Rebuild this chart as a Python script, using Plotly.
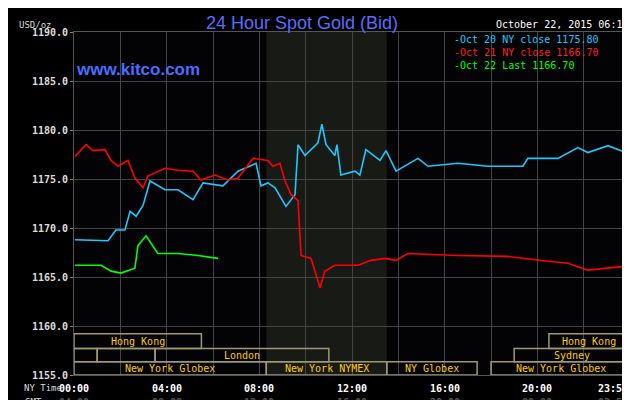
import plotly.graph_objects as go

blue_h = [0.04,1.47,1.81,2.2,2.42,2.68,2.98,3.28,3.93,4.49,5.14,5.57,6.43,7.08,7.86,8.07,8.37,8.68,9.15,9.54,9.67,9.97,10.53,10.70,10.88,11.26,11.35,11.52,12.13,12.34,12.6,13.21,13.47,13.9,14.85,15.28,16.57,17.87,19.38,19.59,20.89,21.75,22.18,23.05,23.82]
blue_v = [1168.8,1168.7,1169.8,1169.8,1171.7,1171.2,1172.3,1174.8,1173.9,1173.9,1172.9,1174.6,1174.3,1175.8,1176.6,1174.3,1174.6,1174.1,1172.2,1173.4,1178.5,1177.4,1178.7,1180.6,1178.5,1177.4,1178.5,1175.4,1175.8,1175.4,1178.0,1176.9,1177.9,1175.8,1177.1,1176.3,1176.6,1176.3,1176.3,1177.1,1177.1,1178.2,1177.7,1178.4,1177.7]
red_h = [0.04,0.52,0.82,1.34,1.6,1.9,2.33,2.63,2.98,3.19,3.93,4.49,5.14,5.48,6.09,6.65,7.08,7.73,8.37,8.59,8.89,9.11,9.37,9.67,9.8,10.23,10.62,10.83,11.26,11.83,12.26,12.82,13.42,13.9,14.41,16.57,18.73,20.46,21.32,22.18,23.05,23.82]
red_v = [1177.3,1178.5,1177.9,1178.0,1176.9,1176.3,1176.9,1175.1,1174.1,1175.3,1176.1,1175.9,1175.8,1174.9,1175.4,1174.9,1175.1,1177.1,1176.9,1176.3,1176.6,1174.8,1173.4,1172.8,1167.2,1166.9,1163.9,1165.6,1166.2,1166.2,1166.2,1166.7,1166.9,1166.7,1167.4,1167.2,1167.1,1166.6,1166.4,1165.7,1165.9,1166.1]
green_h = [0.04,1.17,1.6,2.03,2.63,2.76,3.11,3.62,4.49,5.35,6.22]
green_v = [1166.2,1166.2,1165.6,1165.4,1165.9,1168.2,1169.2,1167.4,1167.4,1167.2,1166.9]

ny_ticks = ["00:00","04:00","08:00","12:00","16:00","20:00","23:59"]
gmt_ticks = ["04:00","08:00","12:00","16:00","20:00","00:00","03:59"]
tick_pos = [0,4,8,12,16,20,23.98]
y_ticks = [1155,1160,1165,1170,1175,1180,1185,1190]

sessions = [(0,0,5.5,"Hong Kong"),(0,20.5,24,"Hong Kong"),
            (1,0,1,""),(1,1,3.5,""),(1,3.5,11,"London"),(1,19,24,"Sydney"),
            (2,0,8.3,"New York Globex"),(2,8.3,13.5,"New York NYMEX"),
            (2,13.5,17.4,"NY Globex"),(2,18,24,"New York Globex")]
row_y = [(1157.7,1159.2),(1156.35,1157.7),(1155.0,1156.35)]

MONO = "DejaVu Sans Mono"
fig = go.Figure()
for h, v, c in [(blue_h, blue_v, "#1ec8ff"), (red_h, red_v, "#ff0000"), (green_h, green_v, "#00ff00")]:
    fig.add_trace(go.Scatter(x=h, y=v, mode="lines", line=dict(color=c, width=1.6), showlegend=False))

shapes = [dict(type="rect", xref="x", yref="y", x0=8.3, x1=13.5, y0=1155, y1=1190,
               fillcolor="#181a16", line_width=0, layer="below")]
ann = []
for r, s, e, lab in sessions:
    y0, y1 = row_y[r]
    shapes.append(dict(type="rect", xref="x", yref="y", x0=s, x1=e, y0=y0, y1=y1,
                       line=dict(color="#a09870", width=1.5), fillcolor="rgba(0,0,0,0)"))
    if lab:
        ann.append(dict(x=(s+e)/2, y=(y0+y1)/2, xref="x", yref="y", text=lab, showarrow=False,
                        font=dict(family=MONO, size=10, color="#ffcc00")))
for p, a, b in zip(tick_pos, ny_ticks, gmt_ticks):
    xa = "right" if p > 23 else "center"
    ann.append(dict(x=p, y=-0.038, xref="x", yref="paper", xanchor=xa, yanchor="middle", text="<b>"+a+"</b>", showarrow=False,
                    font=dict(family=MONO, size=10, color="#ffffff")))
    ann.append(dict(x=p, y=-0.079, xref="x", yref="paper", xanchor=xa, yanchor="middle", text="<b>"+b+"</b>", showarrow=False,
                    font=dict(family=MONO, size=10, color="#555555")))
ann += [
    dict(x=0, y=-0.038, xref="paper", yref="paper", xanchor="right", xshift=-10, yanchor="middle", text="NY Time", showarrow=False,
         font=dict(family=MONO, size=9, color="#dddddd")),
    dict(x=0, y=-0.079, xref="paper", yref="paper", xanchor="right", xshift=-30, yanchor="middle", text="GMT", showarrow=False,
         font=dict(family=MONO, size=9, color="#dddddd")),
    dict(x=0, y=1.0, xref="paper", yref="paper", xanchor="right", xshift=-20, yanchor="bottom", text="USD/oz", showarrow=False,
         font=dict(family=MONO, size=9, color="#dddddd")),
    dict(x=0.41, y=1.0, xref="paper", yref="paper", yanchor="bottom", yshift=-3, text="24 Hour Spot Gold (Bid)", showarrow=False,
         font=dict(family="Liberation Sans", size=18, color="#5a6cff")),
    dict(x=0.0, y=0.925, xref="paper", yref="paper", xanchor="left", text="<b>www.kitco.com</b>", showarrow=False,
         font=dict(family="Liberation Sans", size=17, color="#4a6cff")),
    dict(x=1.0, y=1.0, xref="paper", yref="paper", xanchor="right", yanchor="bottom", text="October 22, 2015 06:12", showarrow=False,
         font=dict(family=MONO, size=10, color="#ffffff")),
    dict(x=0.68, y=1.0, xref="paper", yref="paper", xanchor="left", yanchor="top", align="left",
         text="<span style='color:#1ec8ff'>-Oct 20 NY close 1175.80</span><br>"
              "<span style='color:#ff2020'>-Oct 21 NY close 1166.70</span><br>"
              "<span style='color:#00ff00'>-Oct 22 Last 1166.70</span>", showarrow=False,
         font=dict(family=MONO, size=10)),
]

fig.update_layout(
    width=630, height=400, paper_bgcolor="#000000", plot_bgcolor="#030306",
    margin=dict(l=66, r=8, t=24, b=33, autoexpand=False), shapes=shapes, annotations=ann,
    xaxis=dict(range=[0,24], tickvals=list(range(0,25,2)), showticklabels=False, showgrid=True, automargin=False,
               gridcolor="#444444", gridwidth=1, zeroline=False, showline=True, linecolor="#555555", mirror=True),
    yaxis=dict(range=[1155,1190], tickvals=y_ticks, ticktext=["<b>%.1f</b>" % t for t in y_ticks], automargin=False,
               tickfont=dict(family=MONO, size=10, color="#dddddd"), gridcolor="#444444", zeroline=False,
               showline=True, linecolor="#555555", mirror=True, ticks="outside", ticklen=3, tickcolor="#888888"),
)
fig.write_html("out.html")
